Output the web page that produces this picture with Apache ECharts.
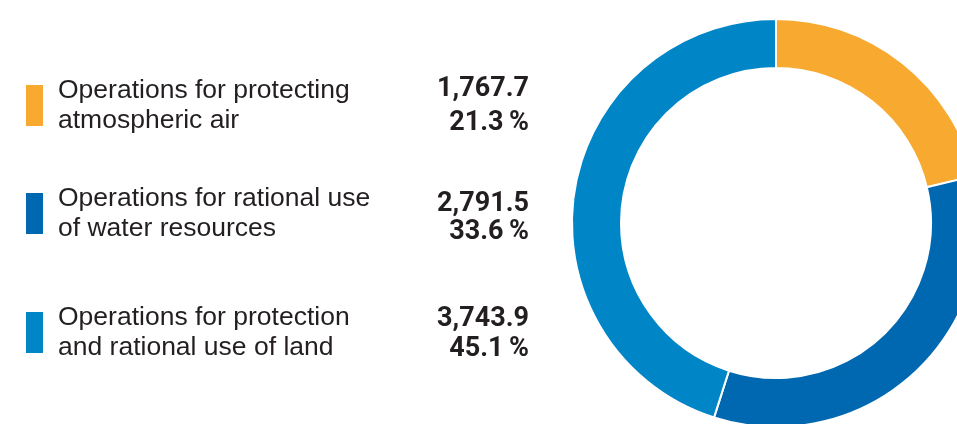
<!DOCTYPE html>
<html>
<head>
<meta charset="utf-8">
<script src="https://cdn.jsdelivr.net/npm/echarts@6/dist/echarts.min.js"></script>
<style>
  html, body { margin: 0; padding: 0; background: #fff; }
  #chart { width: 957px; height: 424px; }
</style>
</head>
<body>
<div id="chart"></div>
<script>
// data
const categories = [
  "Operations for protecting\natmospheric air",
  "Operations for rational use\nof water resources",
  "Operations for protection\nand rational use of land"
];
const amounts = [1767.7, 2791.5, 3743.9];
const shares = [21.3, 33.6, 45.1];
const colors = ["#F8A930", "#0067B1", "#0085C7"];

// layout
const iconTops = [84, 192, 311];
const valueMids = [90, 205, 320];
const shareMids = [124, 233, 350];
const textColor = "#231F20";

const chart = echarts.init(document.getElementById("chart"));

const fmt = (v) => v.toLocaleString("en-US", { minimumFractionDigits: 1, maximumFractionDigits: 1 });

const legends = categories.map((name, i) => ({
  data: [name],
  left: 24,
  top: iconTops[i] - 8.5,
  padding: 0,
  icon: "rect",
  itemWidth: 19,
  itemHeight: 43,
  selectedMode: false,
  textStyle: {
    color: textColor,
    fontFamily: "Liberation Sans",
    fontSize: 26.5,
    lineHeight: 30,
    padding: [0, 0, 0, 9]
  }
}));

const graphics = [];
amounts.forEach((v, i) => {
  graphics.push({
    type: "text",
    right: 957 - 529,
    top: valueMids[i] - 14,
    style: {
      text: fmt(v),
      fill: textColor,
      font: "bold 27px Roboto"
    }
  });
  graphics.push({
    type: "text",
    right: 957 - 529,
    top: shareMids[i] - 14,
    style: {
      text: shares[i].toFixed(1) + "\u2009%",
      fill: textColor,
      font: "bold 27px Roboto"
    }
  });
});

chart.setOption({
  animation: false,
  color: colors,
  legend: legends,
  graphic: graphics,
  series: [{
    type: "pie",
    center: [776, 223],
    radius: [155, 204],
    startAngle: 90,
    clockwise: true,
    label: { show: false },
    labelLine: { show: false },
    emphasis: { disabled: true },
    itemStyle: { borderColor: "#fff", borderWidth: 2 },
    data: categories.map((name, i) => ({ name, value: amounts[i] }))
  }]
});

window.addEventListener("resize", () => chart.resize());
</script>
</body>
</html>
